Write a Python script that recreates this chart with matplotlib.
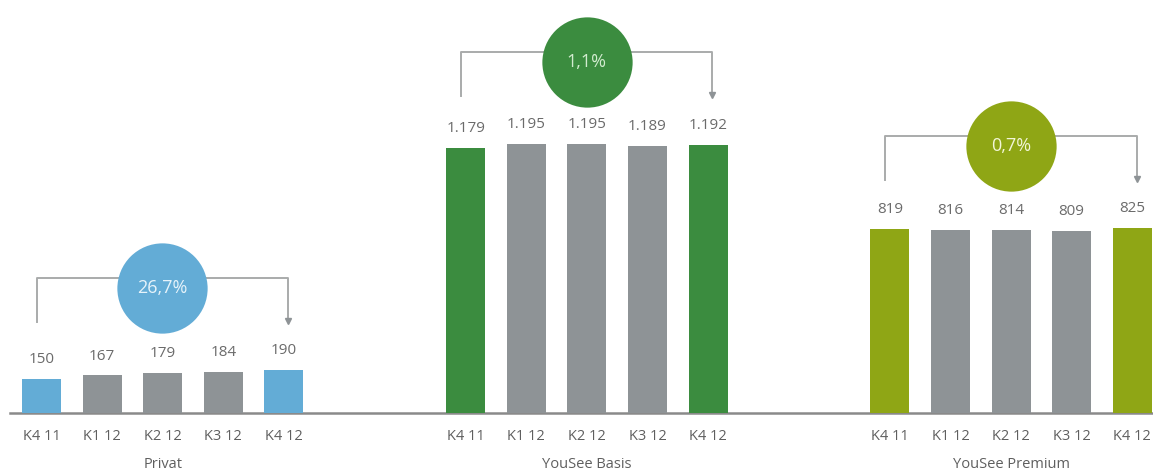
import matplotlib.pyplot as plt

plt.rcParams['font.family'] = ['Open Sans', 'DejaVu Sans']

groups = ['Privat', 'YouSee Basis', 'YouSee Premium']
quarters = ['K4 11', 'K1 12', 'K2 12', 'K3 12', 'K4 12']
privat = [150, 167, 179, 184, 190]
basis = [1179, 1195, 1195, 1189, 1192]
premium = [819, 816, 814, 809, 825]
growth = ['26,7%', '1,1%', '0,7%']

series = [privat, basis, premium]
accent = ['#63acd6', '#3b8c3f', '#8fa615']
circle_text = ['#e6f3fa', '#d2ebcf', '#f2f6d8']
grey = '#8e9396'

fig = plt.figure(figsize=(11.53, 4.70), dpi=100)
ax = fig.add_axes([0, 0, 1, 1])
ax.axis('off')

# 1 px in y = u data units, baseline sits 57 px above the bottom edge
u = 1 / 0.2248
ax.set_ylim(-57 * u, 413 * u)
slot = 60.6
ax.set_xlim(-41.5 / slot, (1153 - 41.5) / slot)

ax.axhline(0, xmin=10 / 1153, xmax=1, color='#8a8a8a', lw=1.8, zorder=1)

for g, vals in enumerate(series):
    xs = [i + 7 * g for i in range(len(vals))]
    cols = [accent[g]] + [grey] * (len(vals) - 2) + [accent[g]]
    ax.bar(xs, vals, width=0.645, color=cols, zorder=2)
    for i, (x, v) in enumerate(zip(xs, vals)):
        ax.annotate(f'{v:,}'.replace(',', '.'), (x, v), xytext=(0, 14),
                    textcoords='offset points', ha='center', va='center',
                    fontsize=11, color='#6b6b6b')
        ax.text(x, -23 * u, quarters[i], ha='center', va='center',
                fontsize=10.5, color='#5f5f5f')
    ax.text(xs[2], -51 * u, groups[g], ha='center', va='center',
            fontsize=10.5, color='#5f5f5f')

    # bracket with arrow from first to last quarter
    top = max(vals) + 92 * u
    left = xs[0] - 0.08
    right = xs[-1] + 0.07
    ax.plot([left, left, right, right], [top - 44 * u, top, top, top - 42 * u],
            color='#a9abab', lw=1.4, zorder=1)
    ax.plot(right, top - 43 * u, marker='v', ms=4, color='#8e9396', zorder=1)
    cx = (left + right) / 2
    ax.plot(cx, top - 10 * u, marker='o', ms=65, color=accent[g], mec='none', zorder=3)
    ax.text(cx, top - 10 * u, growth[g], ha='center', va='center',
            fontsize=13, color=circle_text[g], zorder=4)

fig.savefig('out.png', dpi=100)
